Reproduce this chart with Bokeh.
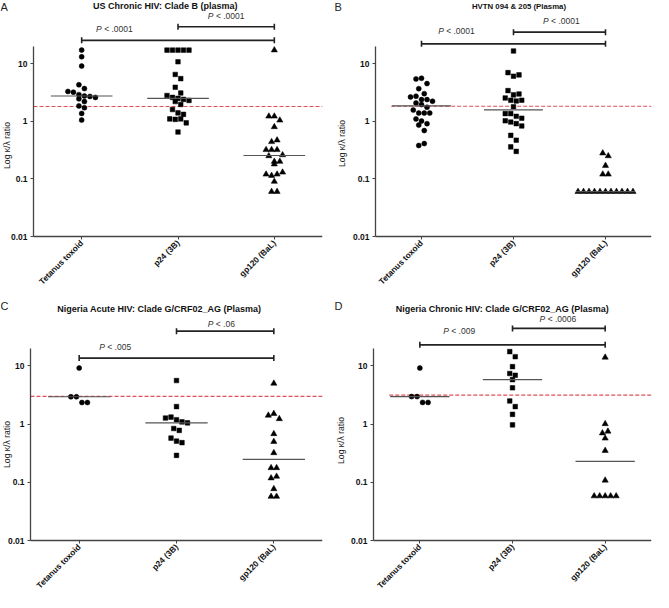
import numpy as np
from bokeh.plotting import figure
from bokeh.layouts import column, row
from bokeh.models import Range1d, FixedTicker, NumeralTickFormatter, Label
from bokeh.embed import file_html
from bokeh.resources import INLINE

categories = ["Tetanus toxoid", "p24 (3B)", "gp120 (BaL)"]

# ---------------- data ----------------
a_title = "US Chronic HIV:  Clade B (plasma)"
a_tetanus = [17.2, 13.2, 9.1, 4.3, 3.7, 3.3, 3.2, 2.9, 2.75, 2.7, 2.6, 2.45, 2.2, 1.85, 1.72, 1.37, 1.05]
a_p24 = [17.2, 17.2, 17.2, 17.2, 17.2, 10.8, 6.5, 5.5, 3.9, 3.1, 2.8, 2.6, 2.5, 2.4, 2.3,
         2.2, 1.96, 1.6, 1.4, 1.32, 1.1, 1.08, 1.1, 0.94, 0.65]
a_gp120 = [17.2, 1.22, 1.22, 1.04, 0.80, 0.44, 0.47, 0.32, 0.32, 0.32, 0.26, 0.25, 0.20,
           0.18, 0.20, 0.12, 0.114, 0.12, 0.13, 0.09, 0.06, 0.06]
a_cutoff = 1.81
a_pvalues = ["P < .0001", "P < .0001"]

b_title = "HVTN 094 & 205 (Plasma)"
b_tetanus = [5.44, 5.59, 4.51, 3.69, 3.02, 2.65, 2.72, 2.38, 2.38, 2.23, 2.08, 1.95, 1.75,
             1.57, 1.39, 1.39, 1.39, 1.10, 1.01, 0.91, 0.86, 0.69, 0.38, 0.41]
b_p24 = [16.6, 7.0, 6.06, 6.39, 3.41, 2.87, 2.98, 2.54, 2.32, 2.25, 2.32, 1.79, 1.36, 1.36,
         1.22, 1.13, 1.02, 0.97, 0.91, 0.83, 0.57, 0.47, 0.36, 0.30]
b_gp120 = [0.28, 0.25, 0.17, 0.12, 0.12, 0.06, 0.06, 0.06, 0.06, 0.06, 0.06, 0.06, 0.06,
           0.06, 0.06, 0.06]
b_cutoff = 1.82
b_pvalues = ["P < .0001", "P < .0001"]

c_title = "Nigeria Acute HIV:  Clade G/CRF02_AG (Plasma)"
c_tetanus = [9.2, 2.95, 2.95, 2.35, 2.35]
c_p24 = [5.6, 2.0, 1.27, 1.32, 1.19, 1.09, 1.05, 0.84, 0.78, 0.575, 0.51, 0.48, 0.29]
c_gp120 = [5.0, 1.41, 1.51, 1.23, 0.68, 0.50, 0.32, 0.177, 0.177, 0.118, 0.126, 0.077, 0.057, 0.057]
c_cutoff = 3.0
c_pvalues = ["P < .005", "P < .06"]

d_title = "Nigeria Chronic HIV:  Clade G/CRF02_AG (Plasma)"
d_tetanus = [9.2, 2.97, 2.97, 2.36, 2.36]
d_p24 = [17.6, 14.4, 9.7, 7.4, 6.9, 5.8, 4.2, 2.5, 2.0, 1.47, 0.97]
d_gp120 = [14.0, 1.01, 0.70, 0.75, 0.57, 0.35, 0.108, 0.058, 0.058, 0.058, 0.058, 0.058]
d_cutoff = 3.15
d_pvalues = ["P < .009", "P < .0006"]

# ---------------- layout (positions / sizes only) ----------------
LAYOUT = {
    "A": dict(width=327, height=292, left=33, right=5, bottom=56, ytop=125.0, dash_start=0.0,
              long_bar=25.4, short_bar=43.9, long_lab=(0.84, 39.8), short_lab=(2.0, 67.0),
              title_px=(166, 5.5), title_size="9px", letter_px=(0, 0), ylab_px=(6, 145)),
    "B": dict(width=326, height=292, left=48, right=2, bottom=56, ytop=125.0, dash_start=0.17,
              long_bar=22.1, short_bar=35.3, long_lab=(0.88, 36.7), short_lab=(2.02, 54.7),
              title_px=(191.5, 5.5), title_size="7.8px", letter_px=(7, 0), ylab_px=(14, 143)),
    "C": dict(width=327, height=300, left=30, right=5, bottom=52, ytop=182.4, dash_start=0.0,
              long_bar=13.6, short_bar=39.5, long_lab=(0.87, 21.1), short_lab=(1.96, 52.3),
              title_px=(160, 16), title_size="9px", letter_px=(0, 7), ylab_px=(6, 152)),
    "D": dict(width=326, height=300, left=46, right=2, bottom=52, ytop=182.4, dash_start=0.17,
              long_bar=23.0, short_bar=44.1, long_lab=(0.925, 39.4), short_lab=(1.99, 63.1),
              title_px=(176, 16), title_size="9px", letter_px=(7, 7), ylab_px=(13, 148)),
}

FONT = "Liberation Sans"
EM = {"P": 0.667, " ": 0.278, "<": 0.584, ".": 0.278}


def text_w(s, size):
    return sum(EM.get(c, 0.556) for c in s) * size


def swarm(vals, center, px_cat, px_dec, step_px=5.5, row_px=6.0):
    ypx = np.log10(np.asarray(vals, float)) * px_dec
    order = sorted(range(len(vals)), key=lambda i: (-ypx[i], i))
    rows, cur, start = [], [], None
    for i in order:
        if start is None or start - ypx[i] >= row_px:
            if cur:
                rows.append(cur)
            cur, start = [i], ypx[i]
        else:
            cur.append(i)
    if cur:
        rows.append(cur)
    xs = np.zeros(len(vals))
    for r in rows:
        r = sorted(r)
        n = len(r)
        for k, i in enumerate(r):
            xs[i] = center + (k - (n - 1) / 2) * step_px / px_cat
    return xs


def build(letter, title, groups, cutoff, pvals, L):
    W, H = L["width"], L["height"]
    ax_px, fr, fb = L["left"], L["right"], L["bottom"]
    fw = W - fr                # frame starts at the left edge of the figure
    axis_y = H - fb            # pixel row of the x axis (value 0.01)
    ytop = L["ytop"]
    ltop = np.log10(ytop)
    px_cat = (fw - ax_px) / 3.0
    px_dec = axis_y / (ltop + 2.0)
    x_start = -ax_px / px_cat
    ybot = 10 ** (-2.0 - fb / px_dec)

    def to_data(fx, fy):
        return (fx - ax_px) / px_cat, 10 ** (ltop - fy / px_dec)

    p = figure(width=W, height=H, x_range=Range1d(x_start, 3.0),
               y_range=Range1d(ybot, ytop), y_axis_type="log", output_backend="svg",
               toolbar_location=None, min_border_left=0, min_border_right=fr,
               min_border_top=0, min_border_bottom=0, title=None)
    p.outline_line_color = None
    p.xgrid.visible = False
    p.ygrid.visible = False

    # axes
    yax = p.yaxis[0]
    yax.ticker = FixedTicker(ticks=[0.01, 0.1, 1, 10])
    yax.formatter = NumeralTickFormatter(format="0.[00]")
    yax.bounds = (0.01, 20)
    yax.fixed_location = 0.0
    xax = p.xaxis[0]
    xax.ticker = FixedTicker(ticks=[0.5, 1.5, 2.5])
    xax.major_label_overrides = {0.5: categories[0], 1.5: categories[1], 2.5: categories[2]}
    xax.bounds = (0.0, 3.0)
    xax.fixed_location = 0.01
    xax.major_label_orientation = np.pi / 4
    for ax in (xax, yax):
        ax.axis_line_color = "#444444"
        ax.axis_line_width = 1.3
        ax.major_tick_line_color = "#444444"
        ax.major_tick_out = 3
        ax.major_tick_in = 0
        ax.minor_tick_line_color = None
        ax.major_label_text_font = FONT
        ax.major_label_text_font_style = "bold"
        ax.major_label_text_color = "#111111"
    yax.major_label_text_font_size = "8.5px"
    xax.major_label_text_font_size = "8.3px"
    yax.major_label_standoff = 3
    xax.major_label_standoff = 2

    # cutoff line
    p.segment(x0=[L["dash_start"]], y0=[cutoff], x1=[3.0], y1=[cutoff],
              line_color="#e0505a", line_width=1.1, line_dash="4 2")

    # points
    markers = ["circle", "square", "triangle"]
    sizes = [5.0, 4.6, 6.2]
    for i, vals in enumerate(groups):
        xs = swarm(vals, i + 0.5, px_cat, px_dec)
        p.scatter(x=list(xs), y=list(vals), marker=markers[i], size=sizes[i],
                  fill_color="black", line_color="black", line_width=0.5)
        med = float(np.median(vals))
        p.segment(x0=[i + 0.5 - 0.32], y0=[med], x1=[i + 0.5 + 0.32], y1=[med],
                  line_color="#555555", line_width=1.2)

    # significance brackets
    lb, sb = L["long_bar"], L["short_bar"]
    p.segment(x0=[0.5, 1.5], y0=[lb, sb], x1=[2.5, 2.5], y1=[lb, sb],
              line_color="#222222", line_width=1.6)
    p.scatter(x=[0.5, 2.5, 1.5, 2.5], y=[lb, lb, sb, sb], marker="dash", angle=np.pi / 2,
              size=6, line_color="#222222", line_width=1.6)
    for (lx, ly), txt in zip([L["long_lab"], L["short_lab"]], pvals):
        size = 8.5
        total = text_w(txt, size)
        start = -total / 2
        rest = txt.split(" ", 1)[1]
        p.add_layout(Label(x=lx, y=ly, text="P", x_offset=start, text_align="left",
                           text_baseline="middle", text_font=FONT, text_font_style="italic",
                           text_font_size=f"{size}px", text_color="#333333"))
        p.add_layout(Label(x=lx, y=ly, text=rest,
                           x_offset=start + text_w("P ", size), text_align="left",
                           text_baseline="middle", text_font=FONT,
                           text_font_size=f"{size}px", text_color="#333333"))

    # title, panel letter, y label
    tx, ty = to_data(*L["title_px"])
    p.add_layout(Label(x=tx, y=ty, text=title, text_align="center", text_baseline="middle",
                       text_font=FONT, text_font_style="bold", text_font_size=L["title_size"],
                       text_color="#111111"))
    lx, ly = to_data(*L["letter_px"])
    p.add_layout(Label(x=lx, y=ly, text=letter, text_align="left", text_baseline="top",
                       text_font=FONT, text_font_size="11px", text_color="#222222"))
    yx, yy = to_data(*L["ylab_px"])
    p.add_layout(Label(x=yx, y=yy, text="Log \u03ba/\u03bb ratio", angle=np.pi / 2,
                       text_align="center", text_baseline="middle", text_font=FONT,
                       text_font_size="8.6px", text_color="#222222"))
    return p


pA = build("A", a_title, [a_tetanus, a_p24, a_gp120], a_cutoff, a_pvalues, LAYOUT["A"])
pB = build("B", b_title, [b_tetanus, b_p24, b_gp120], b_cutoff, b_pvalues, LAYOUT["B"])
pC = build("C", c_title, [c_tetanus, c_p24, c_gp120], c_cutoff, c_pvalues, LAYOUT["C"])
pD = build("D", d_title, [d_tetanus, d_p24, d_gp120], d_cutoff, d_pvalues, LAYOUT["D"])

layout = column(row(pA, pB), row(pC, pD))
open("out.html", "w").write(file_html(layout, INLINE))
